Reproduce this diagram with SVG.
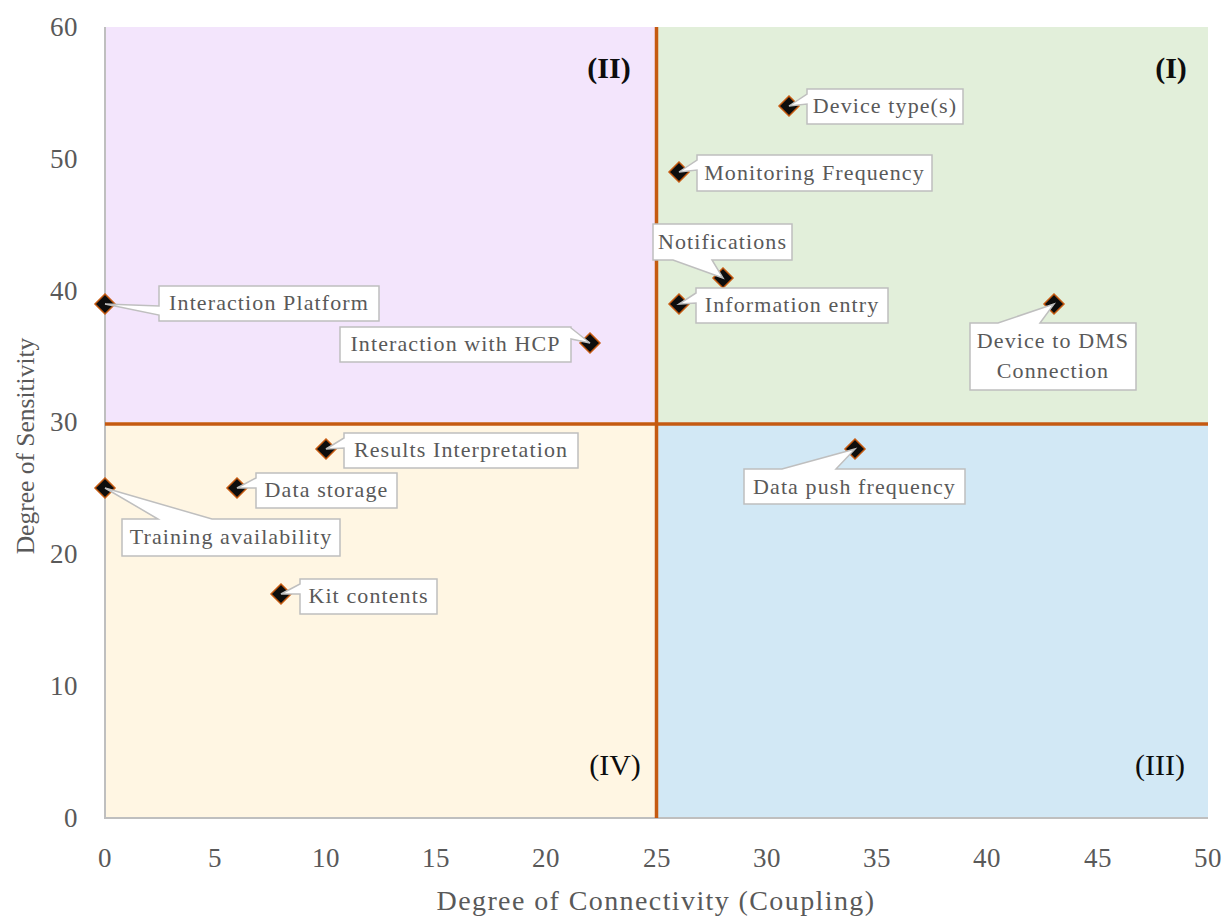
<svg xmlns="http://www.w3.org/2000/svg" width="1230" height="917" viewBox="0 0 1230 917">
<style>
  .tick { font-family: "Liberation Serif", "DejaVu Serif", serif; font-size: 27px; fill: #595959; letter-spacing: 0.5px; }
  .title { font-family: "Liberation Serif", "DejaVu Serif", serif; fill: #595959; }
  .lbl { font-family: "Liberation Serif", "DejaVu Serif", serif; font-size: 22px; fill: #595959; text-anchor: middle; letter-spacing: 1.1px; }
  .quad { font-family: "Liberation Serif", "DejaVu Serif", serif; font-size: 30px; fill: #0d0d0d; text-anchor: middle; }
  .co { fill: #ffffff; stroke: #bfbfbf; stroke-width: 1.5; stroke-linejoin: miter; }
  .pt { fill: #0d0d0d; stroke: #c55a11; stroke-width: 1.5; }
  .axis { stroke: #bfbfbf; stroke-width: 2; fill: none; }
  .div { stroke: #c55a11; stroke-width: 3.5; fill: none; }
</style>
<defs>
  <path id="dia" d="M0,-10 L10,0 L0,10 L-10,0 Z"/>
</defs>
<rect width="1230" height="917" fill="#ffffff"/>
<!-- quadrants -->
<rect x="105" y="27" width="551.5" height="395.5" fill="#f3e5fc"/>
<rect x="656.5" y="27" width="551.5" height="395.5" fill="#e2efda"/>
<rect x="105" y="422.5" width="551.5" height="395.5" fill="#fff6e3"/>
<rect x="656.5" y="422.5" width="551.5" height="395.5" fill="#d2e8f5"/>
<!-- axes -->
<g id="axes">
  <path class="axis" d="M105,27 V818 H1208"/>
  <g class="tick" text-anchor="end">
    <text x="78" y="36">60</text>
    <text x="78" y="168">50</text>
    <text x="78" y="300">40</text>
    <text x="78" y="431">30</text>
    <text x="78" y="563">20</text>
    <text x="78" y="695">10</text>
    <text x="78" y="827">0</text>
  </g>
  <g class="tick" text-anchor="middle">
    <text x="105" y="867">0</text>
    <text x="215" y="867">5</text>
    <text x="326" y="867">10</text>
    <text x="436" y="867">15</text>
    <text x="546" y="867">20</text>
    <text x="657" y="867">25</text>
    <text x="767" y="867">30</text>
    <text x="877" y="867">35</text>
    <text x="987" y="867">40</text>
    <text x="1098" y="867">45</text>
    <text x="1208" y="867">50</text>
  </g>
  <text class="title" x="656" y="910" text-anchor="middle" font-size="28" letter-spacing="1.4">Degree of Connectivity (Coupling)</text>
  <text class="title" x="0" y="0" text-anchor="middle" font-size="25.5" transform="translate(34,446) rotate(-90)">Degree of Sensitivity</text>
</g>
<!-- dividers -->
<g id="connectors">
  <line class="div" x1="656.5" y1="27" x2="656.5" y2="818"/>
  <line class="div" x1="105" y1="424" x2="1208" y2="424"/>
</g>
<!-- quadrant labels -->
<g id="quadrant-labels">
  <text class="quad" x="1171" y="78" font-weight="bold">(I)</text>
  <text class="quad" x="609" y="78" font-weight="bold">(II)</text>
  <text class="quad" x="1160" y="775">(III)</text>
  <text class="quad" x="615" y="775">(IV)</text>
</g>
<!-- data points -->
<g id="device-types">
  <use href="#dia" class="pt" x="789" y="106"/>
  <path class="co" d="M807,89 H963 V124 H807 V104 L789,106 L807,94 Z"/>
  <text class="lbl" x="885" y="113">Device type(s)</text>
</g>
<g id="monitoring-frequency">
  <use href="#dia" class="pt" x="679" y="172"/>
  <path class="co" d="M697,155 H932 V191 H697 V170 L679,172 L697,160 Z"/>
  <text class="lbl" x="814.5" y="180">Monitoring Frequency</text>
</g>
<g id="notifications">
  <use href="#dia" class="pt" x="723" y="278"/>
  <path class="co" d="M653,224 H792 V260 H712 L723,278 L673,260 H653 Z"/>
  <text class="lbl" x="722.5" y="249">Notifications</text>
</g>
<g id="information-entry">
  <use href="#dia" class="pt" x="679" y="304"/>
  <path class="co" d="M696,288 H888 V323 H696 V303 L679,304 L696,293 Z"/>
  <text class="lbl" x="792" y="312">Information entry</text>
</g>
<g id="interaction-platform">
  <use href="#dia" class="pt" x="105" y="304"/>
  <path class="co" d="M159,286 H379 V321 H159 V315 L105,304 L159,306 Z"/>
  <text class="lbl" x="269" y="310">Interaction Platform</text>
</g>
<g id="interaction-hcp">
  <use href="#dia" class="pt" x="590" y="343"/>
  <path class="co" d="M340,327 H571 V328 L590,343 L571,339 V362 H340 Z"/>
  <text class="lbl" x="455.5" y="351">Interaction with HCP</text>
</g>
<g id="device-dms">
  <use href="#dia" class="pt" x="1054" y="304"/>
  <path class="co" d="M970,323 H998 L1054,304 L1040,323 H1136 V390 H970 Z"/>
  <text class="lbl" x="1053" y="348">Device to DMS</text>
  <text class="lbl" x="1053" y="378">Connection</text>
</g>
<g id="results-interpretation">
  <use href="#dia" class="pt" x="326" y="449"/>
  <path class="co" d="M344,433 H578 V468 H344 V448 L326,449 L344,438 Z"/>
  <text class="lbl" x="461" y="457">Results Interpretation</text>
</g>
<g id="data-storage">
  <use href="#dia" class="pt" x="237" y="488"/>
  <path class="co" d="M256,473 H397 V508 H256 V488 L237,488 L256,478 Z"/>
  <text class="lbl" x="326.5" y="497">Data storage</text>
</g>
<g id="training-availability">
  <use href="#dia" class="pt" x="105" y="488"/>
  <path class="co" d="M122,519 H158 L105,488 L212,519 H340 V556 H122 Z"/>
  <text class="lbl" x="231" y="544">Training availability</text>
</g>
<g id="kit-contents">
  <use href="#dia" class="pt" x="281" y="594"/>
  <path class="co" d="M300,579 H437 V614 H300 V594 L281,594 L300,584 Z"/>
  <text class="lbl" x="368.5" y="603">Kit contents</text>
</g>
<g id="data-push-frequency">
  <use href="#dia" class="pt" x="855" y="449"/>
  <path class="co" d="M744,469 H782 L855,449 L836,469 H965 V504 H744 Z"/>
  <text class="lbl" x="854.5" y="494">Data push frequency</text>
</g>
</svg>
